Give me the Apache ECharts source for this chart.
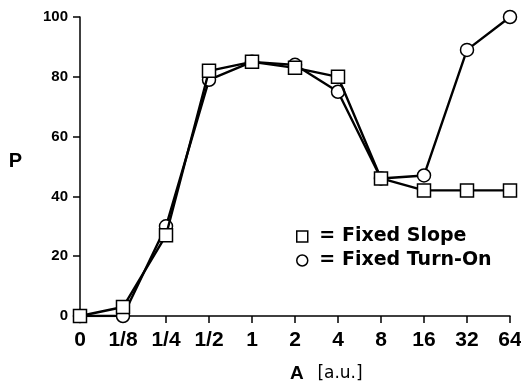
<!DOCTYPE html>
<html>
<head>
<meta charset="utf-8">
<script src="https://cdn.jsdelivr.net/npm/echarts@6/dist/echarts.min.js"></script>
<style>
  html, body { margin: 0; padding: 0; background: #fff; }
  #chart { width: 521px; height: 382px; }
</style>
</head>
<body>
<div id="chart"></div>
<script>
// Amplitude categories (log2 steps) and probability values for both fits
const categories = ['0', '1/8', '1/4', '1/2', '1', '2', '4', '8', '16', '32', '64'];
const fixedSlope = [0, 3, 27, 82, 85, 83, 80, 46, 42, 42, 42];
const fixedTurnOn = [0, 0, 30, 79, 85, 84, 75, 46, 47, 89, 100];
const yTicks = [0, 20, 40, 60, 80, 100];

const FONT = 'Liberation Sans';
const WIDE = 'DejaVu Sans';
const chart = echarts.init(document.getElementById('chart'), null, { renderer: 'canvas' });

const markerStyle = { color: '#fff', borderColor: '#000', borderWidth: 1.5 };

chart.setOption({
  animation: false,
  backgroundColor: '#fff',
  grid: { left: 80, right: 11, top: 17, bottom: 66, outerBoundsMode: 'none', containLabel: false },
  legend: {
    orient: 'vertical',
    left: 296,
    top: 227,
    padding: 0,
    itemWidth: 11,
    itemHeight: 11,
    itemGap: 5,
    selectedMode: false,
    formatter: ' = {name}',
    itemStyle: markerStyle,
    textStyle: { fontFamily: WIDE, fontWeight: 'bold', fontSize: 19, color: '#000' },
    data: [
      { name: 'Fixed Slope', icon: 'rect' },
      { name: 'Fixed Turn-On', icon: 'circle' }
    ]
  },
  xAxis: {
    type: 'category',
    data: categories,
    boundaryGap: false,
    name: '{a|A}  {b|[a.u.]}',
    nameLocation: 'middle',
    nameGap: 48,
    nameTextStyle: {
      align: 'left',
      padding: [0, 0, 0, -5],
      rich: {
        a: { fontFamily: FONT, fontWeight: 'bold', fontSize: 19, color: '#000' },
        b: { fontFamily: WIDE, fontSize: 17, color: '#000', padding: [0, 0, 0, 7] }
      }
    },
    axisLine: { lineStyle: { color: '#000', width: 1.5 } },
    axisTick: { inside: false, length: 7, lineStyle: { color: '#000', width: 1.5 } },
    axisLabel: { margin: 14, fontFamily: FONT, fontWeight: 'bold', fontSize: 21, color: '#000' },
    splitLine: { show: false }
  },
  yAxis: {
    type: 'value',
    min: yTicks[0],
    max: yTicks[yTicks.length - 1],
    interval: yTicks[1] - yTicks[0],
    name: '{p|P}',
    nameLocation: 'middle',
    nameRotate: 0,
    nameGap: 58,
    nameTextStyle: {
      rich: {
        p: { fontFamily: FONT, fontWeight: 'bold', fontSize: 20, color: '#000', padding: [0, 0, 10, 0] }
      }
    },
    axisLine: { show: true, lineStyle: { color: '#000', width: 1.5 } },
    axisTick: { show: true, length: 7, lineStyle: { color: '#000', width: 1.5 } },
    axisLabel: { margin: 12, fontFamily: FONT, fontWeight: 'bold', fontSize: 15, color: '#000' },
    splitLine: { show: false }
  },
  series: [
    {
      name: 'Fixed Turn-On',
      type: 'line',
      data: fixedTurnOn,
      symbol: 'circle',
      symbolSize: 13,
      itemStyle: markerStyle,
      lineStyle: { color: '#000', width: 2.4 },
      z: 2
    },
    {
      name: 'Fixed Slope',
      type: 'line',
      data: fixedSlope,
      symbol: 'rect',
      symbolSize: 13,
      itemStyle: markerStyle,
      lineStyle: { color: '#000', width: 2.4 },
      z: 3
    }
  ]
});
</script>
</body>
</html>
